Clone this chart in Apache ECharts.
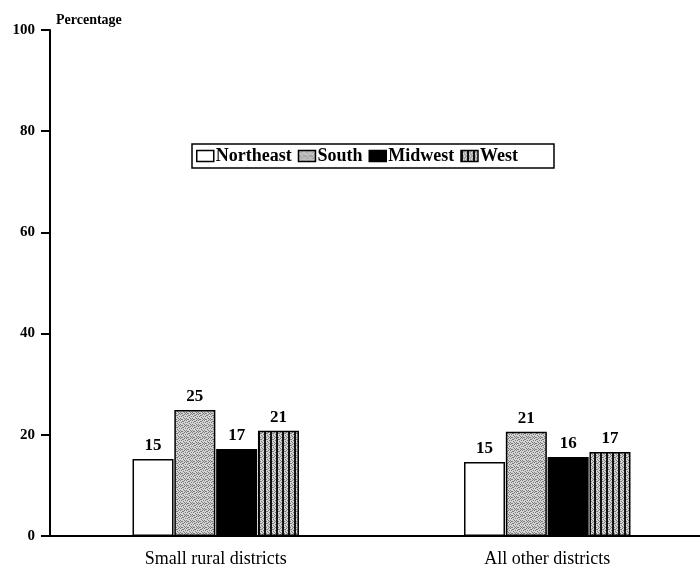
<!DOCTYPE html>
<html>
<head>
<meta charset="utf-8">
<script src="https://cdn.jsdelivr.net/npm/echarts@6/dist/echarts.min.js"></script>
<style>
html,body{margin:0;padding:0;background:#fff;}
#chart{width:700px;height:573px;}
</style>
</head>
<body>
<div id="chart"></div>
<script>
// ---- data ----
const categories = ['Small rural districts', 'All other districts'];
const seriesNames = ['Northeast', 'South', 'Midwest', 'West'];
const northeast = [15.2, 14.6];
const south = [24.9, 20.6];
const midwest = [17.2, 15.6];
const west = [20.8, 16.6];
const yTicks = [0, 20, 40, 60, 80, 100];

// ---- patterns ----
function stipple(withStripes) {
  const c = document.createElement('canvas');
  c.width = 6; c.height = 6;
  const g = c.getContext('2d');
  g.fillStyle = '#d4d4d4';
  g.fillRect(0, 0, 6, 6);
  g.fillStyle = '#7a7a7a';
  const dots = [[0,0],[2,1],[4,0],[1,2],[3,3],[5,2],[0,4],[2,5],[4,4],[5,5],[1,5],[3,1]];
  dots.forEach(d => g.fillRect(d[0], d[1], 1, 1));
  if (withStripes) {
    g.fillStyle = '#111';
    g.fillRect(0, 0, 2, 6);
  }
  return { image: c, repeat: 'repeat' };
}
const southPattern = stipple(false);
const westPattern = stipple(true);

const font = 'Liberation Serif, Times New Roman, serif';
const fills = ['#ffffff', southPattern, '#000000', westPattern];
const values = [northeast, south, midwest, west];

const chart = echarts.init(document.getElementById('chart'), null, { renderer: 'canvas' });
chart.setOption({
  animation: false,
  backgroundColor: '#fff',
  title: {
    text: 'Percentage', left: 51, top: 8,
    textStyle: { fontFamily: font, fontSize: 14, fontWeight: 'bold', color: '#000' }
  },
  legend: {
    data: seriesNames,
    left: 192, top: 144,
    padding: [3, 36, 3, 4],
    borderColor: '#000', borderWidth: 1.5,
    itemWidth: 17, itemHeight: 11, itemGap: 6,
    icon: 'rect',
    itemStyle: { borderColor: '#000', borderWidth: 1.5 },
    textStyle: { fontFamily: font, fontSize: 18, fontWeight: 'bold', color: '#000', padding: [0, 0, 0, -3] }
  },
  grid: { left: 50, top: 30, width: 663, bottom: 37, outerBoundsMode: 'none', containLabel: false },
  xAxis: {
    type: 'category',
    data: categories,
    axisLine: { lineStyle: { color: '#000', width: 2 } },
    axisTick: { show: false },
    axisLabel: { margin: 14, fontFamily: font, fontSize: 18, color: '#000' }
  },
  yAxis: {
    type: 'value', min: 0, max: 100, interval: 20,
    axisLine: { show: true, lineStyle: { color: '#000', width: 2 } },
    axisTick: { show: true, length: 9, lineStyle: { color: '#000', width: 2 } },
    splitLine: { show: false },
    axisLabel: {
      margin: 15, fontFamily: font, fontSize: 15, fontWeight: 'bold', color: '#000',
      formatter: v => (yTicks.indexOf(v) >= 0 ? String(v) : '')
    }
  },
  series: seriesNames.map((name, i) => ({
    name: name,
    type: 'bar',
    data: values[i],
    barWidth: 41,
    barGap: '2%',
    itemStyle: { color: fills[i], borderColor: '#000', borderWidth: 1.5 },
    label: {
      show: true, position: 'top', distance: 5,
      fontFamily: font, fontSize: 17, fontWeight: 'bold', color: '#000',
      formatter: p => String(Math.round(p.value))
    }
  }))
});
</script>
</body>
</html>
